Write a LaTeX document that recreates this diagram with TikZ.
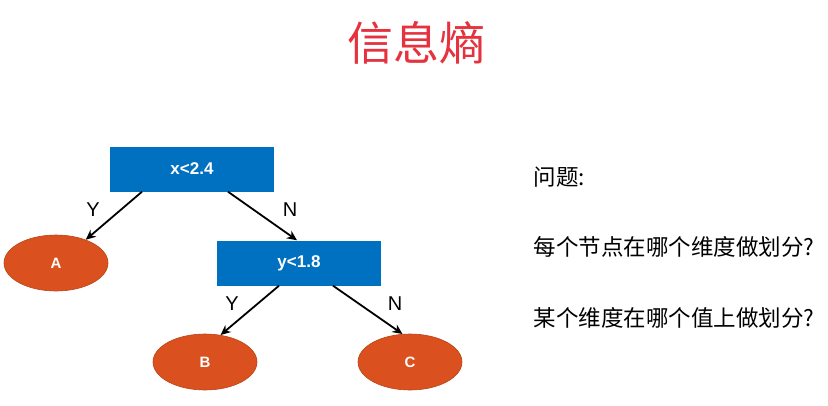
\documentclass[tikz,border=0pt]{standalone}
\usepackage{fontspec}
\setmainfont{Liberation Sans}
\newfontfamily\cjk{Noto Sans CJK SC}
\usetikzlibrary{shapes.geometric,arrows.meta}

\definecolor{boxblue}{RGB}{0,112,192}
\definecolor{leaforange}{RGB}{218,80,30}
\definecolor{titlered}{RGB}{230,50,62}

\tikzset{
  testbox/.style={fill=boxblue, minimum width=164pt, minimum height=45pt, inner sep=0pt,
    text=white, font=\bfseries\fontsize{17}{17}\selectfont},
  leaf/.style={ellipse, fill=leaforange, draw=leaforange!85!black, line width=.6pt,
    minimum width=104pt, minimum height=56pt, inner sep=0pt,
    text=white, font=\bfseries\fontsize{15}{15}\selectfont},
  branch/.style={-{Stealth[length=10pt,width=9pt]}, line width=1.8pt},
  answer/.style={font=\fontsize{20}{20}\selectfont},
  question/.style={anchor=west, font=\cjk\fontsize{22.5}{22.5}\selectfont}
}

\begin{document}
\begin{tikzpicture}[x=1pt,y=-1pt]

    \useasboundingbox (0,0) rectangle (828,405);

    % title
    \node [text=titlered, font=\cjk\fontsize{46}{46}\selectfont] (title) at (416,43) {信息熵};

    % decision tree
    \node [testbox] (xsplit) at (192,169) {x<2.4};
    \node [testbox] (ysplit) at (299,263) {y<1.8};
    \node [leaf] (leafA) at (56,263) {A};
    \node [leaf] (leafB) at (205,362) {B};
    \node [leaf] (leafC) at (410,362) {C};

    \draw [branch] ([xshift=-50pt]xsplit.south) -- (leafA.38);
    \draw [branch] ([xshift=36pt]xsplit.south) -- ([xshift=-2pt]ysplit.north);
    \draw [branch] ([xshift=-20pt]ysplit.south) -- (leafB.60);
    \draw [branch] ([xshift=34pt]ysplit.south) -- (leafC.105);

    % branch labels
    \node [answer] (yesA) at (93,210) {Y};
    \node [answer] (noX) at (290,210) {N};
    \node [answer] (yesB) at (232,304) {Y};
    \node [answer] (noY) at (395,304) {N};

    % questions
    \node [question] (qhead) at (530,177) {问题:};
    \node [question] (qnode) at (530,247) {每个节点在哪个维度做划分?};
    \node [question] (qvalue) at (530,318) {某个维度在哪个值上做划分?};

\end{tikzpicture}
\end{document}
